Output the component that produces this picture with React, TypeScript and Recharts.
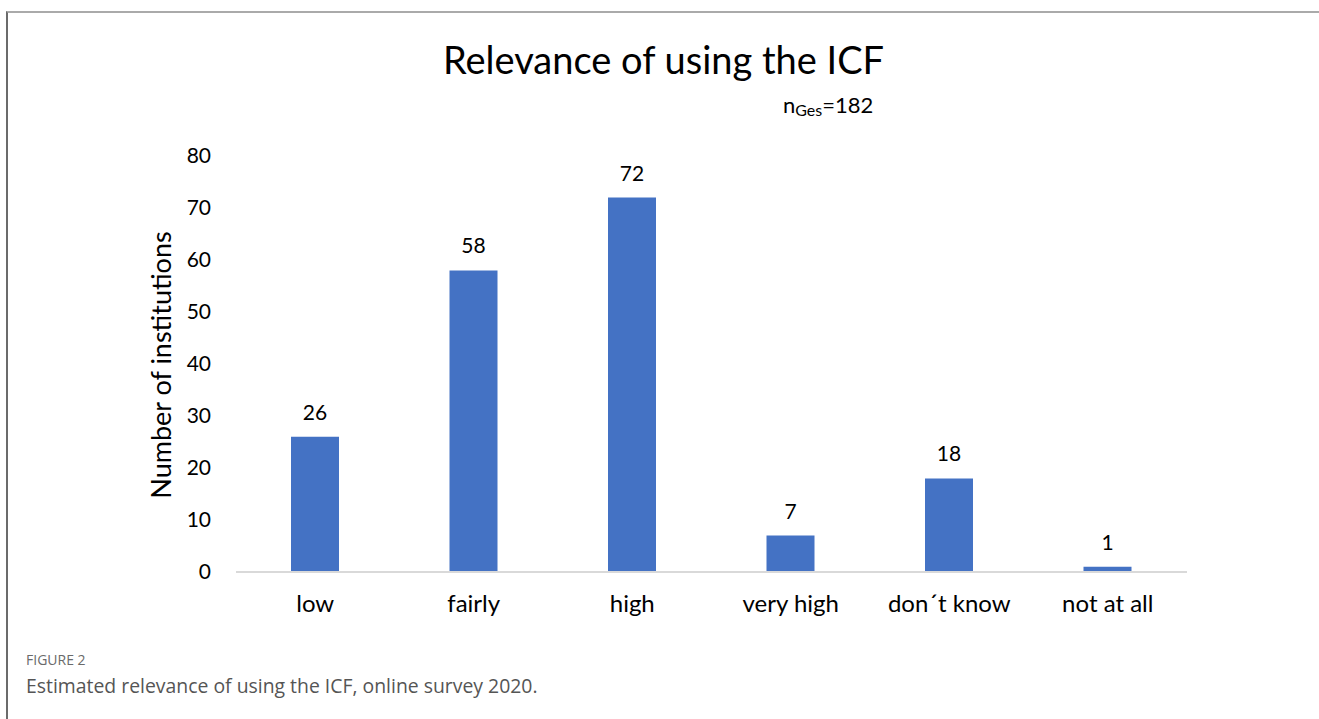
import React from "react";
import { BarChart, Bar, XAxis, YAxis, LabelList } from "recharts";

const categories = ["low", "fairly", "high", "very high", "don´t know", "not at all"];
const institutions = [26, 58, 72, 7, 18, 1];
const yTicks = [0, 10, 20, 30, 40, 50, 60, 70, 80];

const data = categories.map((name, i) => ({ name, value: institutions[i] }));

const FONT = "Lato, 'Open Sans', sans-serif";
const BLUE = "#4472C4";

export default function App() {
  return (
    <div style={{ position: "absolute", left: 0, top: 0, width: 1319, height: 719, background: "#fff", fontFamily: FONT }}>
      {/* figure frame (top + left edges) */}
      <div
        style={{
          position: "absolute", left: 6, top: 11, right: 0, bottom: 0,
          borderTop: "2px solid #aaaaaa", borderLeft: "2px solid #6b6b6b",
        }}
      />

      <div style={{ position: "absolute", left: 0, top: 0 }}>
        <BarChart
          width={1319}
          height={719}
          data={data}
          margin={{ top: 156, right: 132, bottom: 117, left: 176 }}
          barCategoryGap="0%"
        >
          <XAxis
            dataKey="name"
            height={30}
            tickLine={false}
            axisLine={{ stroke: "#d9d9d9", strokeWidth: 2 }}
            tickSize={0}
            tickMargin={23}
            interval={0}
            tick={{ fill: "#000", fontSize: 24, fontFamily: FONT }}
          />
          <YAxis
            width={60}
            domain={[0, 80]}
            ticks={yTicks}
            interval={0}
            tickLine={false}
            axisLine={false}
            tickSize={0}
            tickMargin={25}
            tick={{ fill: "#000", fontSize: 21, fontFamily: FONT }}
          />
          <Bar dataKey="value" fill={BLUE} barSize={48} isAnimationActive={false}>
            <LabelList dataKey="value" position="top" offset={17} fill="#000" fontSize={21} fontFamily={FONT} />
          </Bar>
        </BarChart>
      </div>

      {/* title and sample size */}
      <div style={{ position: "absolute", left: 0, width: 1319, top: 36, textAlign: "center", fontSize: 38, color: "#000", paddingLeft: 4 }}>
        Relevance of using the ICF
      </div>
      <div style={{ position: "absolute", left: 783, top: 91, fontSize: 22, color: "#000" }}>
        n<span style={{ fontSize: 16, position: "relative", top: 3 }}>Ges</span>=182
      </div>

      {/* y axis title */}
      <div
        style={{
          position: "absolute", left: 160, top: 365, fontSize: 27, color: "#000", whiteSpace: "nowrap",
          transform: "translate(-50%, -50%) rotate(-90deg)",
        }}
      >
        Number of institutions
      </div>

      {/* caption */}
      <div style={{ position: "absolute", left: 26, top: 650, fontSize: 14, color: "#6a6a6a", fontFamily: "'Open Sans', sans-serif" }}>
        FIGURE 2
      </div>
      <div style={{ position: "absolute", left: 26, top: 672, fontSize: 19.4, color: "#555", fontFamily: "'Open Sans', sans-serif" }}>
        Estimated relevance of using the ICF, online survey 2020.
      </div>
    </div>
  );
}
